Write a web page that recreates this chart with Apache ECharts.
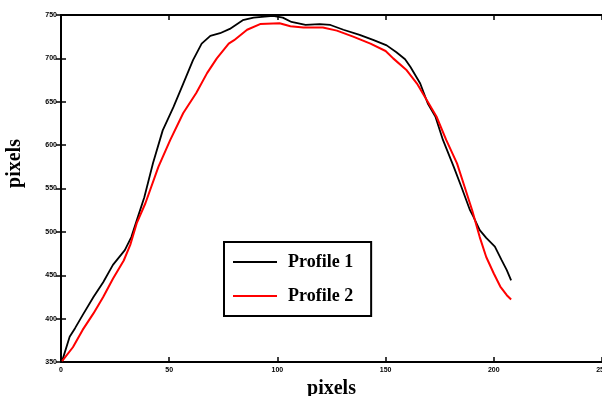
<!DOCTYPE html>
<html>
<head>
<meta charset="utf-8">
<script src="https://cdn.jsdelivr.net/npm/echarts@6/dist/echarts.min.js"></script>
<style>
  html, body { margin: 0; padding: 0; background: #fff; }
  #chart { width: 602px; height: 396px; }
</style>
</head>
<body>
<div id="chart"></div>
<script>
// values, [x, y]
const profile1 = [
  [0.5, 351], [4, 379], [6.5, 389], [10, 404], [15, 425], [19.5, 442], [24, 462],
  [29.5, 479], [32.5, 494], [35.5, 517], [38.5, 540], [42.5, 579], [47, 617],
  [52, 644], [56.5, 671], [61, 698], [65, 717], [69, 726], [73.5, 729], [78, 734],
  [84, 744], [89, 747], [98, 749], [102.5, 747], [106.5, 742], [113, 738.5],
  [119.5, 739.5], [124.5, 738.5], [130.5, 733], [138, 727], [144.5, 721], [150.5, 715],
  [155, 707], [159, 699], [161.5, 690], [166, 671], [169.5, 648], [173, 633],
  [176.5, 606], [181.5, 575], [185, 552], [189, 525], [190.5, 518], [193.5, 502],
  [196.5, 493], [200.5, 483], [203.5, 468], [206, 456], [208, 444]
];
const profile2 = [
  [0.5, 351], [5.5, 367], [10, 387], [15, 406], [19.5, 425], [24, 446], [29, 467],
  [32, 485], [35, 510], [39, 533], [45, 575], [50.5, 606], [56.5, 637], [62.5, 660],
  [67.5, 683], [72, 700], [77.5, 717], [80, 721], [86, 733], [92, 739.5], [101, 740.5],
  [106, 737], [112, 735.5], [121, 735.5], [127.5, 732], [135, 725], [143, 717],
  [150, 708.5], [153.5, 700], [159.5, 687], [164.5, 671], [169, 652], [173.5, 633],
  [178, 606], [183, 579], [186.5, 552], [190, 525], [193.5, 494], [196.5, 471],
  [200, 452], [203, 437], [206, 427], [208, 422]
];
const xTicks = { min: 0, max: 250, step: 50 };
const yTicks = { min: 350, max: 750, step: 50 };

const chart = echarts.init(document.getElementById('chart'));

const axisLine = { lineStyle: { color: '#000', width: 2 } };
const axisTick = { inside: true, length: 5, lineStyle: { color: '#000', width: 1.5 } };
const axisLabel = {
  fontSize: 7,
  fontWeight: 'bold',
  color: '#000',
  fontFamily: 'Liberation Sans'
};
const titleStyle = {
  fontSize: 20,
  fontWeight: 'bold',
  color: '#000',
  fontFamily: 'Liberation Serif'
};

chart.setOption({
  backgroundColor: '#fff',
  animation: false,
  grid: { left: 61, right: 0, top: 15, bottom: 34, outerBoundsMode: 'none', containLabel: false },
  legend: {
    orient: 'vertical',
    left: 224,
    top: 242,
    padding: [10, 18, 10, 9],
    itemGap: 14,
    itemWidth: 44,
    itemHeight: 2,
    icon: 'rect',
    borderColor: '#000',
    borderWidth: 2,
    textStyle: {
      fontSize: 18,
      fontWeight: 'bold',
      lineHeight: 20,
      color: '#000',
      fontFamily: 'Liberation Serif',
      padding: [0, 0, 0, 6]
    },
    data: ['Profile 1', 'Profile 2']
  },
  xAxis: [{
    type: 'value',
    position: 'bottom',
    min: xTicks.min,
    max: xTicks.max,
    interval: xTicks.step,
    axisLine: axisLine,
    axisTick: axisTick,
    axisLabel: Object.assign({ margin: 5 }, axisLabel),
    splitLine: { show: false },
    name: 'pixels',
    nameLocation: 'middle',
    nameGap: 17,
    nameTextStyle: titleStyle
  }, {
    type: 'value',
    position: 'top',
    min: xTicks.min,
    max: xTicks.max,
    interval: xTicks.step,
    axisLine: axisLine,
    axisTick: axisTick,
    axisLabel: { show: false },
    splitLine: { show: false }
  }],
  yAxis: [{
    type: 'value',
    position: 'left',
    min: yTicks.min,
    max: yTicks.max,
    interval: yTicks.step,
    axisLine: axisLine,
    axisTick: axisTick,
    axisLabel: Object.assign({ margin: 4 }, axisLabel),
    splitLine: { show: false },
    name: 'pixels',
    nameLocation: 'middle',
    nameGap: 36,
    nameRotate: 90,
    nameTextStyle: Object.assign({ padding: [0, 0, 0, 50] }, titleStyle)
  }, {
    type: 'value',
    position: 'right',
    min: yTicks.min,
    max: yTicks.max,
    interval: yTicks.step,
    axisLine: axisLine,
    axisTick: axisTick,
    axisLabel: { show: false },
    splitLine: { show: false }
  }],
  series: [{
    name: 'Profile 1',
    type: 'line',
    data: profile1,
    symbol: 'none',
    color: '#000',
    lineStyle: { color: '#000', width: 1.8 }
  }, {
    name: 'Profile 2',
    type: 'line',
    data: profile2,
    symbol: 'none',
    color: '#ff0000',
    lineStyle: { color: '#ff0000', width: 2 }
  }]
});
</script>
</body>
</html>
